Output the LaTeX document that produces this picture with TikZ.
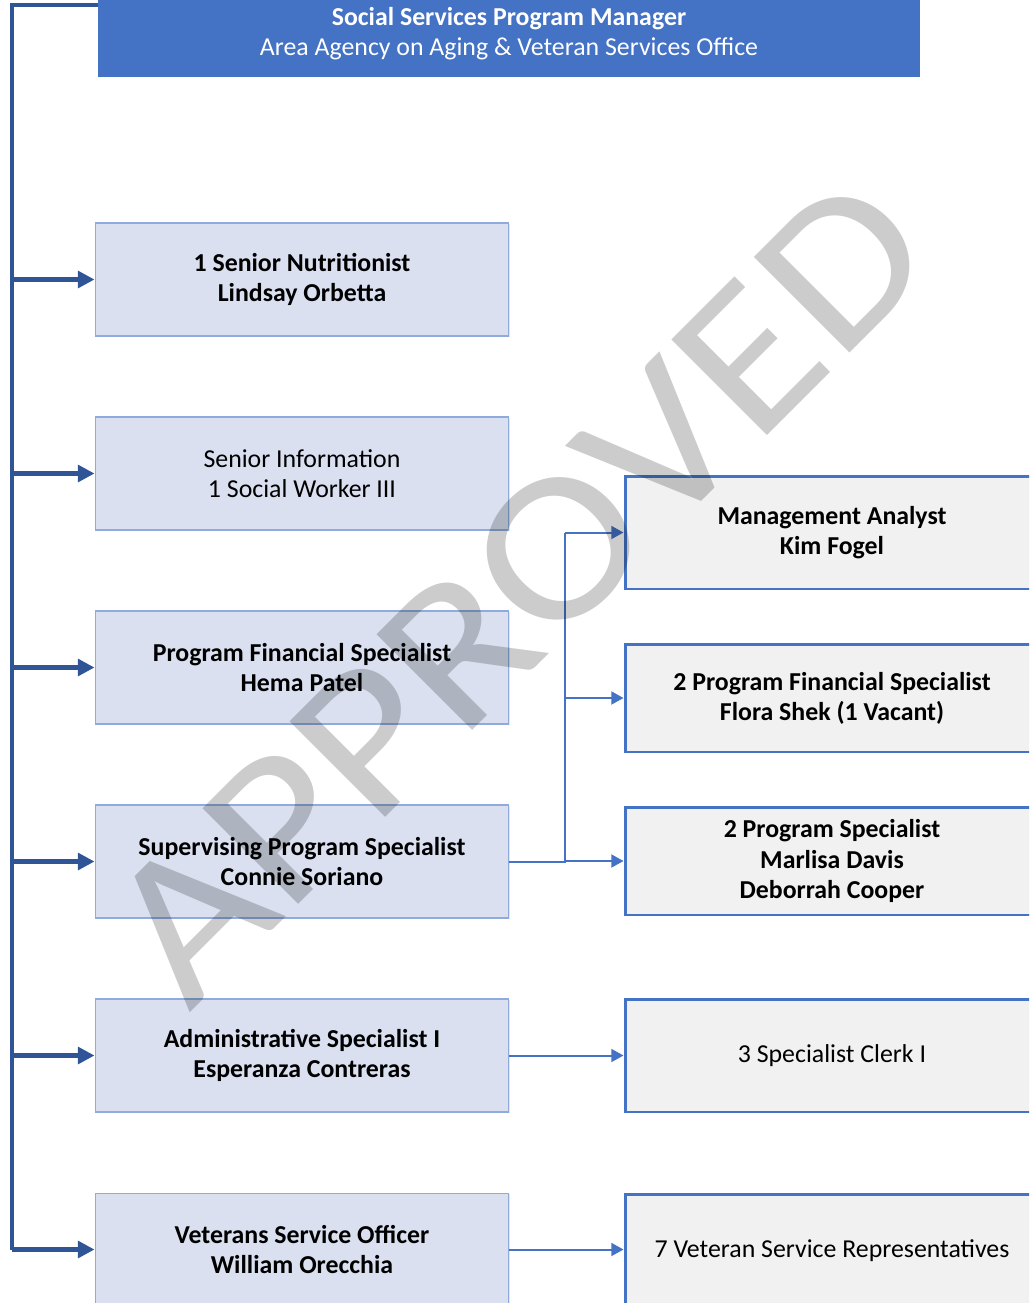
\documentclass[tikz,border=0pt]{standalone}
\usepackage{fontspec}
\setmainfont{Carlito}
\usetikzlibrary{arrows.meta,shadows,positioning}

\definecolor{mgrblue}{HTML}{4472C4}
\definecolor{busblue}{HTML}{2F5597}
\definecolor{leftfill}{HTML}{DAE0F0}
\definecolor{leftline}{HTML}{8FAADC}
\definecolor{rightfill}{HTML}{F1F1F1}

\tikzset{
  plain/.style={align=center, font=\fontsize{14.7}{17.2}\selectfont},
  strong/.style={align=center, font=\fontsize{14.7}{17.2}\selectfont\bfseries},
  mgrbox/.style={plain, fill=mgrblue, text=white, minimum width=16.44cm, minimum height=1.72cm, inner sep=0pt},
  leftbox/.style={draw=leftline, line width=0.6pt, fill=leftfill, minimum width=8.28cm, minimum height=2.26cm,
    drop shadow={opacity=0.2, shadow xshift=0.8pt, shadow yshift=-0.8pt}},
  rightbox/.style={draw=mgrblue, line width=1.7pt, fill=rightfill, minimum width=8.28cm, minimum height=2.26cm,
    drop shadow={opacity=0.12, shadow xshift=0.8pt, shadow yshift=-0.8pt}},
  bus/.style={busblue, line width=2.3pt},
  busarrow/.style={bus, -{Triangle[length=9.5pt,width=9.5pt]}},
  subline/.style={mgrblue, line width=1.15pt},
  subarrow/.style={subline, -{Triangle[length=7pt,width=7.4pt]}},
  watermark/.style={text=black!20, font=\fontsize{120}{120}\selectfont, inner sep=0pt, blend mode=multiply}
}

\begin{document}
\begin{tikzpicture}[x=0.02cm, y=-0.02cm]
  \useasboundingbox (0,0) rectangle (1029,1303);
  \clip (0,0) rectangle (1029,1303);

  % manager
  \node[mgrbox] (mgr) at (509,34) {\textbf{Social Services Program Manager}\\Area Agency on Aging \& Veteran Services Office};

  % left column
  \node[leftbox,strong] (nutr)  at (302,279.5)  {1 Senior Nutritionist\\Lindsay Orbetta};
  \node[leftbox,plain]  (info)  at (302,473.5)  {Senior Information\\1 Social Worker III};
  \node[leftbox,strong] (fin)   at (302,667.5)  {Program Financial Specialist\\Hema Patel};
  \node[leftbox,strong] (sup)   at (302,861.5)  {Supervising Program Specialist\\Connie Soriano};
  \node[leftbox,strong] (admin) at (302,1055.5) {Administrative Specialist I\\Esperanza Contreras};
  \node[leftbox,strong] (vso)   at (302,1249.5) {Veterans Service Officer\\William Orecchia};

  % right column
  \node[rightbox,strong] (mgmt)  at (832,532.5)  {Management Analyst\\Kim Fogel};
  \node[rightbox,strong,minimum height=2.16cm] (pfs) at (832,698) {2 Program Financial Specialist\\Flora Shek (1 Vacant)};
  \node[rightbox,strong,minimum height=2.16cm] (ps)  at (832,861) {2 Program Specialist\\Marlisa Davis\\Deborrah Cooper};
  \node[rightbox,plain]  (clerk) at (832,1055.5) {3 Specialist Clerk I};
  \node[rightbox,plain]  (vsr)   at (832,1251)   {7 Veteran Service Representatives};

  % bus from manager
  \coordinate (busTop) at (12,5);
  \draw[bus, line join=miter] (mgr.west |- busTop) -- (busTop) -- (busTop |- vso.west);
  \foreach \n in {nutr,info,fin,sup,admin,vso}
    \draw[busarrow] (busTop |- \n.west) -- (\n.west);

  % supervising program specialist
  \coordinate (split) at (565,0);
  \draw[subline] (sup.east) -- (split |- sup.east) -- (split |- mgmt.west);
  \foreach \n in {mgmt,pfs,ps}
    \draw[subarrow] (split |- \n.west) -- (\n.west);
  \draw[subarrow] (admin.east) -- (admin.east -| clerk.west);
  \draw[subarrow] (vso.east) -- (vso.east -| vsr.west);

  % stamp
  \node[watermark, rotate=45, anchor=base west] (stamp) at (189,1014) {\scalebox{1.13}[1]{APPROVED}};
\end{tikzpicture}
\end{document}
